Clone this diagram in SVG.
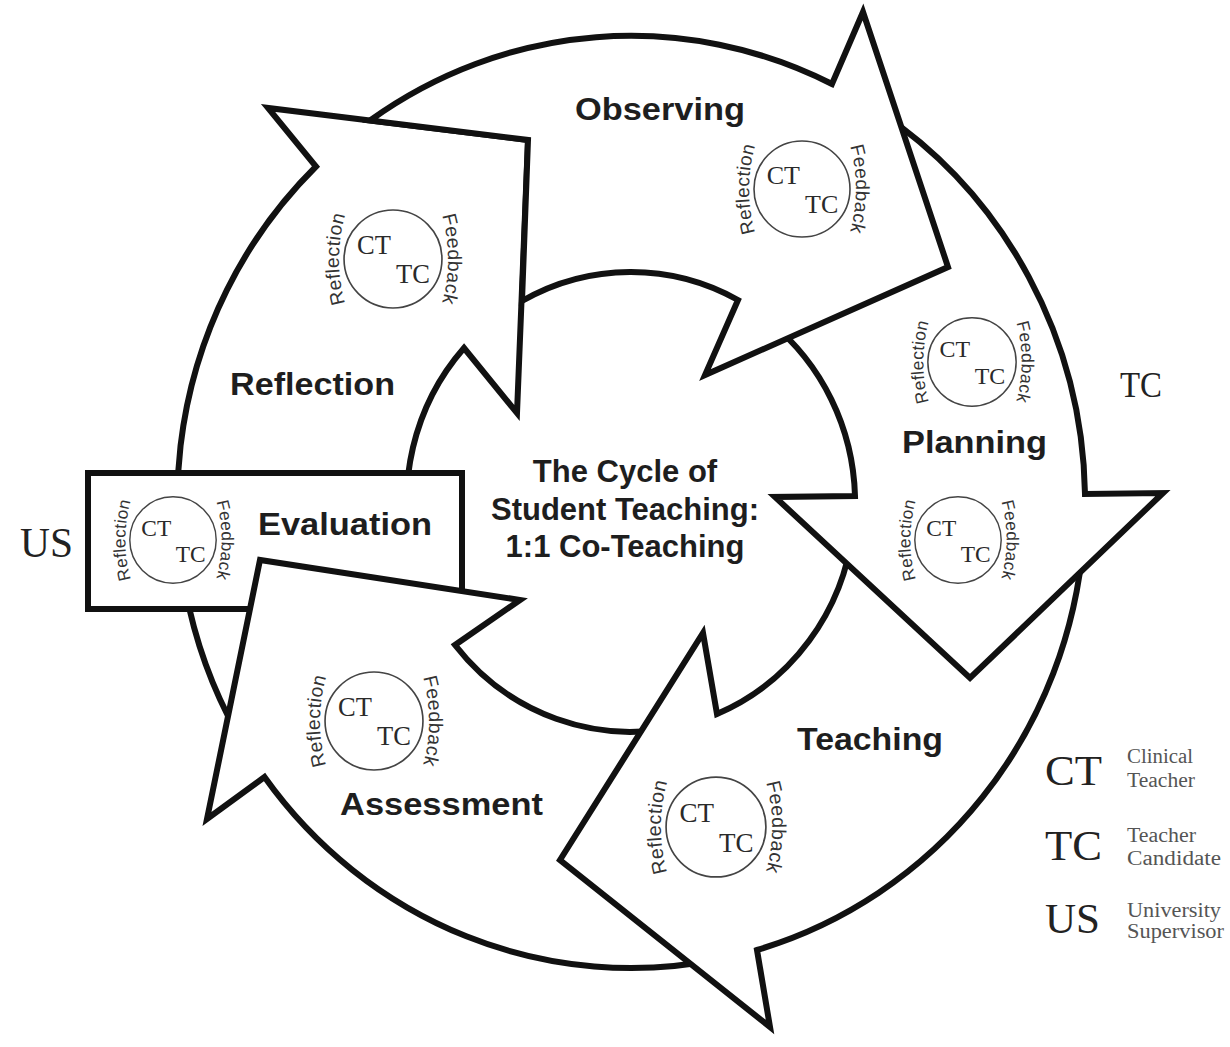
<svg xmlns="http://www.w3.org/2000/svg" width="1230" height="1047" viewBox="0 0 1230 1047">
<style>
.arrow{fill:#fff;stroke:#111;stroke-width:6;stroke-linejoin:miter;stroke-miterlimit:10}
.lbl{font-family:"Liberation Sans",Arial,sans-serif;font-weight:bold;font-size:32px;fill:#1e1e1e}
.ctr{font-family:"Liberation Sans",Arial,sans-serif;font-weight:bold;font-size:31px;fill:#1e1e1e;text-anchor:middle}
.bc{fill:none;stroke:#444;stroke-width:1.6}
.bt{font-family:"Liberation Serif","Times New Roman",serif;font-size:26px;fill:#2a2a2a}
.arc{font-family:"Liberation Sans",Arial,sans-serif;font-size:19px;fill:#333;letter-spacing:0.4px;text-anchor:middle}
.big{font-family:"Liberation Serif","Times New Roman",serif;fill:#222}
.small{font-family:"Liberation Serif","Times New Roman",serif;font-size:20px;fill:#555}
</style>
<defs>
<path id="arcL" d="M -41.3 60 A 160 160 0 0 1 -41.3 -60"/>
<path id="arcR" d="M 42.3 -60 A 160 160 0 0 1 42.3 60"/>
</defs>
<rect width="1230" height="1047" fill="#fff"/>

<g id="connectors"/>

<g id="node-reflection">
<path class="arrow" d="M 247 750 A 454 466 0 0 1 316 166.5 L 268 108 L 528 140 L 517 413 L 464 348 A 224 230 0 0 0 414 560 Z"/>
<text class="lbl" x="230" y="395" textLength="165" lengthAdjust="spacingAndGlyphs">Reflection</text>
<g transform="translate(393,259) scale(1.02)">
<circle class="bc" r="48"/>
<text class="bt" x="-2" y="-5" text-anchor="end">CT</text>
<text class="bt" x="3" y="24">TC</text>
<text class="arc"><textPath href="#arcL" startOffset="50%">Reflection</textPath></text>
<text class="arc"><textPath href="#arcR" startOffset="50%">Feedback</textPath></text>
</g>
</g>

<g id="node-evaluation">
<rect class="arrow" x="88" y="473" width="374" height="136"/>
<text class="lbl" x="258" y="535" textLength="174" lengthAdjust="spacingAndGlyphs">Evaluation</text>
<g transform="translate(173,540) scale(0.9)">
<circle class="bc" r="48"/>
<text class="bt" x="-2" y="-5" text-anchor="end">CT</text>
<text class="bt" x="3" y="24">TC</text>
<text class="arc"><textPath href="#arcL" startOffset="50%">Reflection</textPath></text>
<text class="arc"><textPath href="#arcR" startOffset="50%">Feedback</textPath></text>
</g>
</g>

<g id="node-assessment">
<path class="arrow" d="M 720 959 A 454 466 0 0 1 264.5 777 L 207 819 L 260 560 L 520 600 L 455 645 A 224 230 0 0 0 680 726 Z"/>
<text class="lbl" x="340" y="815" textLength="203" lengthAdjust="spacingAndGlyphs">Assessment</text>
<g transform="translate(374,721) scale(1.02)">
<circle class="bc" r="48"/>
<text class="bt" x="-2" y="-5" text-anchor="end">CT</text>
<text class="bt" x="3" y="24">TC</text>
<text class="arc"><textPath href="#arcL" startOffset="50%">Reflection</textPath></text>
<text class="arc"><textPath href="#arcR" startOffset="50%">Feedback</textPath></text>
</g>
</g>

<g id="node-teaching">
<path class="arrow" d="M 1083.5 540 A 454 466 0 0 1 757 950 L 770 1027 L 560 860 L 703 633 L 717 714 A 224 230 0 0 0 853 530 Z"/>
<text class="lbl" x="797" y="750" textLength="146" lengthAdjust="spacingAndGlyphs">Teaching</text>
<g transform="translate(716,827) scale(1.04)">
<circle class="bc" r="48"/>
<text class="bt" x="-2" y="-5" text-anchor="end">CT</text>
<text class="bt" x="3" y="24">TC</text>
<text class="arc"><textPath href="#arcL" startOffset="50%">Reflection</textPath></text>
<text class="arc"><textPath href="#arcR" startOffset="50%">Feedback</textPath></text>
</g>
</g>

<g id="node-planning">
<path class="arrow" d="M 880 112 A 454 466 0 0 1 1085 494 L 1163 493 L 970 678 L 775 497 L 855 496 A 224 230 0 0 0 770 322 Z"/>
<text class="lbl" x="902" y="453" textLength="145" lengthAdjust="spacingAndGlyphs">Planning</text>
<g transform="translate(972,362) scale(0.92)">
<circle class="bc" r="48"/>
<text class="bt" x="-2" y="-5" text-anchor="end">CT</text>
<text class="bt" x="3" y="24">TC</text>
<text class="arc"><textPath href="#arcL" startOffset="50%">Reflection</textPath></text>
<text class="arc"><textPath href="#arcR" startOffset="50%">Feedback</textPath></text>
</g>
<g transform="translate(958,540) scale(0.9)">
<circle class="bc" r="48"/>
<text class="bt" x="-2" y="-5" text-anchor="end">CT</text>
<text class="bt" x="3" y="24">TC</text>
<text class="arc"><textPath href="#arcL" startOffset="50%">Reflection</textPath></text>
<text class="arc"><textPath href="#arcR" startOffset="50%">Feedback</textPath></text>
</g>
</g>

<g id="node-observing">
<path class="arrow" d="M 370 120.5 A 454 466 0 0 1 832 84 L 863 12 L 948 267 L 705 375 L 738 300 A 224 230 0 0 0 522 301 L 528 140 Z"/>
<text class="lbl" x="575" y="120" textLength="170" lengthAdjust="spacingAndGlyphs">Observing</text>
<g transform="translate(802,189)">
<circle class="bc" r="48"/>
<text class="bt" x="-2" y="-5" text-anchor="end">CT</text>
<text class="bt" x="3" y="24">TC</text>
<text class="arc"><textPath href="#arcL" startOffset="50%">Reflection</textPath></text>
<text class="arc"><textPath href="#arcR" startOffset="50%">Feedback</textPath></text>
</g>
</g>

<g id="node-center">
<text class="ctr" x="625" y="482">The Cycle of</text>
<text class="ctr" x="625" y="520">Student Teaching:</text>
<text class="ctr" x="625" y="557">1:1 Co-Teaching</text>
</g>

<g id="node-roles">
<text class="big" x="1120" y="397" font-size="35" textLength="42" lengthAdjust="spacingAndGlyphs">TC</text>
<text class="big" x="20" y="557" font-size="42" textLength="53" lengthAdjust="spacingAndGlyphs">US</text>
</g>

<g id="node-legend">
<text class="big" x="1045" y="785" font-size="42" textLength="57" lengthAdjust="spacingAndGlyphs">CT</text>
<text class="small" x="1127" y="763" textLength="66" lengthAdjust="spacingAndGlyphs">Clinical</text>
<text class="small" x="1127" y="787" textLength="68" lengthAdjust="spacingAndGlyphs">Teacher</text>
<text class="big" x="1045" y="860" font-size="42" textLength="57" lengthAdjust="spacingAndGlyphs">TC</text>
<text class="small" x="1127" y="842" textLength="69" lengthAdjust="spacingAndGlyphs">Teacher</text>
<text class="small" x="1127" y="865" textLength="94" lengthAdjust="spacingAndGlyphs">Candidate</text>
<text class="big" x="1045" y="933" font-size="42" textLength="55" lengthAdjust="spacingAndGlyphs">US</text>
<text class="small" x="1127" y="917" textLength="94" lengthAdjust="spacingAndGlyphs">University</text>
<text class="small" x="1127" y="938" textLength="97" lengthAdjust="spacingAndGlyphs">Supervisor</text>
</g>
</svg>
